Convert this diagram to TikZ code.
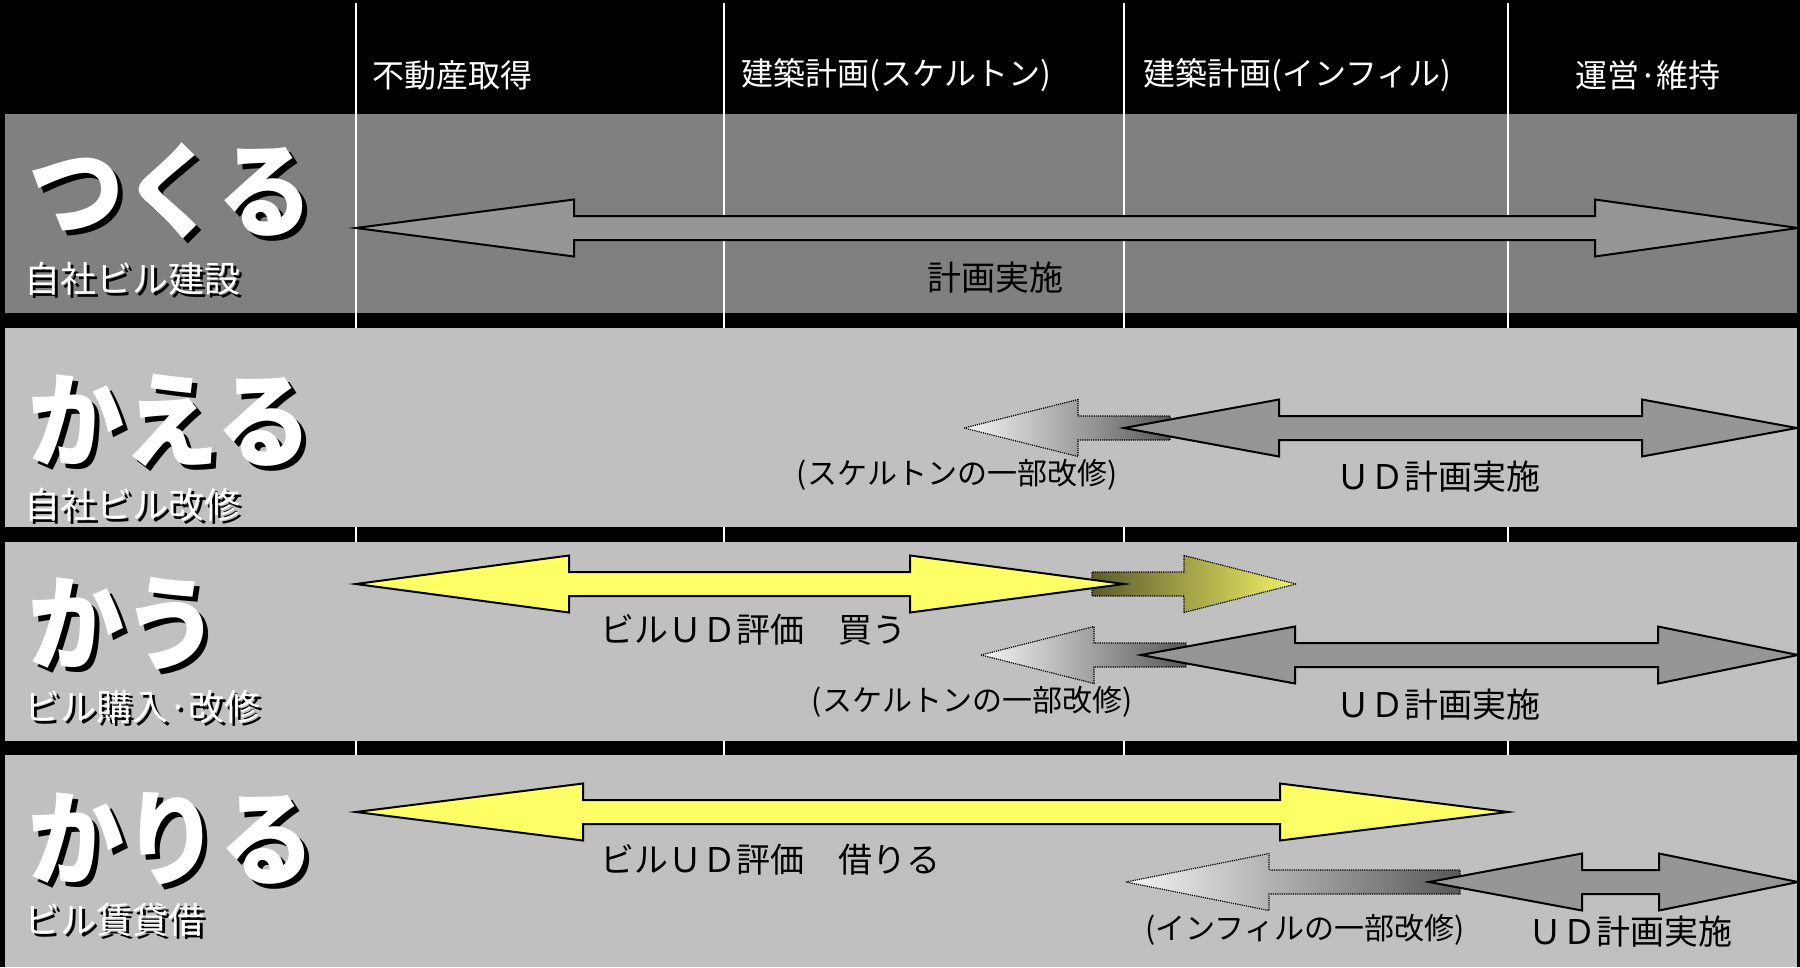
\documentclass[tikz,border=0pt]{standalone}
\usepackage{fontspec}
\setmainfont{Noto Sans CJK JP}
\newfontfamily\titlefont[FakeStretch=0.92]{Noto Sans CJK JP}
\definecolor{bandgray}{HTML}{808080}
\definecolor{bandlight}{HTML}{C0C0C0}
\definecolor{arrowgray}{HTML}{969696}
\definecolor{udyellow}{HTML}{FFFF66}
\definecolor{olivedark}{HTML}{5C5C2E}
\definecolor{olivelight}{HTML}{F2F266}
% double headed block arrow: style, left tip, right tip, y, left head, right head
\newcommand{\dblarrow}[6]{%
  \draw[#1] (#2,#4) -- (#2+#5,#4-28.5) -- (#2+#5,#4-12) -- (#3-#6,#4-12)
    -- (#3-#6,#4-28.5) -- (#3,#4) -- (#3-#6,#4+28.5) -- (#3-#6,#4+12)
    -- (#2+#5,#4+12) -- (#2+#5,#4+28.5) -- cycle;}
% single block arrow: style, tip, head base, tail, y
\newcommand{\onearrow}[5]{%
  \draw[#1] (#2,#5) -- (#3,#5-28.5) -- (#3,#5-12) -- (#4,#5-12)
    -- (#4,#5+12) -- (#3,#5+12) -- (#3,#5+28.5) -- cycle;}
% white text with a black drop shadow
\newcommand{\shadowtext}[6]{%
  \node[#5, text=black] (#1s) at (#2+#4,#3+#4) {#6};
  \node[#5, text=white] (#1) at (#2,#3) {#6};}
\begin{document}
\begin{tikzpicture}[x=1pt, y=-1pt,
    colline/.style={white, line width=1.5pt},
    grayarrow/.style={fill=arrowgray, draw=black, line width=2pt},
    yellowarrow/.style={fill=udyellow, draw=black, line width=2pt},
    ghost/.style={draw=black, densely dotted, line width=1.2pt},
    title/.style={anchor=west, inner sep=0, font=\titlefont\bfseries\fontsize{104}{104}\selectfont},
    sub/.style={anchor=west, inner sep=0, font=\fontsize{36}{36}\selectfont},
    head/.style={text=white, inner sep=0, font=\fontsize{32}{32}\selectfont},
    lbl/.style={text=black, inner sep=0, font=\fontsize{34}{34}\selectfont},
    note/.style={text=black, inner sep=0, font=\fontsize{30}{30}\selectfont}]
  \fill[black] (0,0) rectangle (1800,967);
  \useasboundingbox (0,0) rectangle (1800,967);
  % bands
  \fill[bandgray] (5,114) rectangle (1797,313);
  \foreach \x in {356,724,1124,1508}
    \draw[colline] (\x,3) -- (\x,967);
  \fill[bandlight] (5,328) rectangle (1797,527);
  \fill[bandlight] (5,542) rectangle (1797,741);
  \fill[bandlight] (5,755) rectangle (1797,967);
  % header
  \node[head, anchor=west] (acq) at (372,75) {不動産取得};
  \node[head, anchor=west] (skel) at (741,75) {建築計画(スケルトン)};
  \node[head, anchor=west] (infill) at (1143,75) {建築計画(インフィル)};
  \node[head] (ops) at (1648,75) {運営·維持};
  % つくる
  \dblarrow{grayarrow}{356}{1798}{228}{218}{203}
  \node[lbl] (plan) at (995,278) {計画実施};
  % かえる
  \onearrow{ghost, left color=white!96!black, right color=black!65}{964}{1078}{1170}{428}
  \dblarrow{grayarrow}{1124}{1797}{428}{155}{155}
  \node[note] (skel2) at (957,475) {(スケルトンの一部改修)};
  \node[lbl] (ud2) at (1438,477) {ＵＤ計画実施};
  % かう
  \onearrow{ghost, left color=olivedark, right color=olivelight}{1296}{1184}{1092}{584}
  \dblarrow{yellowarrow}{356}{1124}{584}{213}{214}
  \node[lbl, anchor=west] (buy) at (600,630) {ビルＵＤ評価　買う};
  \onearrow{ghost, left color=white!96!black, right color=black!65}{981}{1094}{1186}{655}
  \dblarrow{grayarrow}{1141}{1798}{655}{154}{140}
  \node[note] (skel3) at (972,702) {(スケルトンの一部改修)};
  \node[lbl] (ud3) at (1438,705) {ＵＤ計画実施};
  % かりる
  \dblarrow{yellowarrow}{356}{1508}{812}{227}{228}
  \node[lbl, anchor=west] (rent) at (600,860) {ビルＵＤ評価　借りる};
  \onearrow{ghost, left color=white!96!black, right color=black!65}{1126}{1269}{1460}{882}
  \dblarrow{grayarrow}{1429}{1798}{882}{153}{139}
  \node[note] (infill4) at (1305,930) {(インフィルの一部改修)};
  \node[lbl] (ud4) at (1630,932) {ＵＤ計画実施};
  % row titles
  \shadowtext{make}{28}{191}{5}{title}{つくる}
  \shadowtext{makesub}{24}{279}{3}{sub}{自社ビル建設}
  \shadowtext{change}{28}{420}{5}{title}{かえる}
  \shadowtext{changesub}{24}{505}{3}{sub}{自社ビル改修}
  \shadowtext{buyt}{28}{624}{5}{title}{かう}
  \shadowtext{buysub}{24}{707}{3}{sub}{ビル購入·改修}
  \shadowtext{rentt}{28}{839}{5}{title}{かりる}
  \shadowtext{rentsub}{24}{920}{3}{sub}{ビル賃貸借}
\end{tikzpicture}
\end{document}
